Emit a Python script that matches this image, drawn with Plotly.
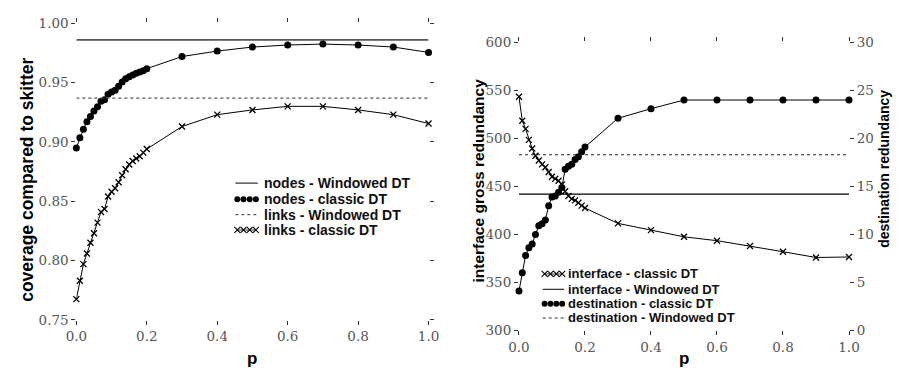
import plotly.graph_objects as go

# ---------------- data ----------------
p = [0.00, 0.01, 0.02, 0.03, 0.04, 0.05, 0.06, 0.07, 0.08, 0.09, 0.10,
     0.11, 0.12, 0.13, 0.14, 0.15, 0.16, 0.17, 0.18, 0.19, 0.20,
     0.3, 0.4, 0.5, 0.6, 0.7, 0.8, 0.9, 1.0]

nodes_classic = [0.895, 0.9035, 0.9107, 0.917, 0.9215, 0.926, 0.9296, 0.9344, 0.9355, 0.9403,
                 0.942, 0.9435, 0.947, 0.9505, 0.9532, 0.955, 0.9565, 0.958, 0.959, 0.960,
                 0.9618, 0.972, 0.9766, 0.980, 0.9817, 0.9825, 0.9817, 0.980, 0.9755]
links_classic = [0.7675, 0.783, 0.797, 0.806, 0.815, 0.823, 0.832, 0.841, 0.8435, 0.854,
                 0.858, 0.861, 0.866, 0.872, 0.877, 0.881, 0.884, 0.886, 0.888, 0.891,
                 0.894, 0.913, 0.923, 0.927, 0.930, 0.930, 0.927, 0.923, 0.9155]
nodes_windowed = 0.986
links_windowed = 0.937

interface_classic = [543.5, 518.5, 510, 498.5, 489.5, 482, 477, 473, 470, 465,
                     460, 458, 456, 452, 445, 440, 437, 435.5, 433, 430,
                     427.5, 411.5, 404.5, 397.5, 393.5, 388, 382, 376, 376.5]
destination_classic = [4.1, 6.0, 7.8, 8.6, 9.0, 10.0, 10.9, 11.1, 11.5, 13.0,
                       13.9, 14.0, 14.4, 14.9, 16.8, 17.1, 17.3, 17.8, 18.1, 18.6,
                       19.1, 22.1, 23.1, 24.0, 24.0, 24.0, 24.0, 24.0, 24.0]
interface_windowed = 442
destination_windowed = 18.3

x_ticks = [0.0, 0.2, 0.4, 0.6, 0.8, 1.0]
left_y_ticks = [0.75, 0.80, 0.85, 0.90, 0.95, 1.00]
right_y_ticks = [300, 350, 400, 450, 500, 550, 600]
right_y2_ticks = [0, 5, 10, 15, 20, 25, 30]

left_legend_labels = ["nodes - Windowed DT", "nodes - classic DT",
                      "links - Windowed DT", "links - classic DT"]
left_legend_kinds = ["solid", "dots", "dash", "cross"]
right_legend_labels = ["interface - classic DT", "interface - Windowed DT",
                       "destination - classic DT", "destination - Windowed DT"]
right_legend_kinds = ["cross", "solid", "dots", "dash"]

# ---------------- styling ----------------
W, H = 900, 370
tickfont = dict(family="DejaVu Serif", size=13.5, color="#555555")
dot = dict(symbol="circle", size=7, color="black")
cross = dict(symbol="x-thin-open", size=6, line=dict(width=1.3, color="black"))

fig = go.Figure()

# left panel
fig.add_trace(go.Scatter(x=[0, 1], y=[nodes_windowed] * 2, mode="lines",
                         line=dict(color="#555555", width=1.6), xaxis="x", yaxis="y"))
fig.add_trace(go.Scatter(x=p, y=nodes_classic, mode="lines+markers",
                         line=dict(color="black", width=1), marker=dot, cliponaxis=False,
                         xaxis="x", yaxis="y"))
fig.add_trace(go.Scatter(x=[0, 1], y=[links_windowed] * 2, mode="lines",
                         line=dict(color="#555555", width=1.3, dash="3px,3px"),
                         xaxis="x", yaxis="y"))
fig.add_trace(go.Scatter(x=p, y=links_classic, mode="lines+markers",
                         line=dict(color="black", width=1), marker=cross, cliponaxis=False,
                         xaxis="x", yaxis="y"))

# right panel
fig.add_trace(go.Scatter(x=p, y=interface_classic, mode="lines+markers",
                         line=dict(color="black", width=1), marker=cross, cliponaxis=False,
                         xaxis="x2", yaxis="y2"))
fig.add_trace(go.Scatter(x=[0, 1], y=[interface_windowed] * 2, mode="lines",
                         line=dict(color="black", width=1.1), xaxis="x2", yaxis="y2"))
fig.add_trace(go.Scatter(x=p, y=destination_classic, mode="lines+markers",
                         line=dict(color="black", width=1), marker=dot, cliponaxis=False,
                         xaxis="x2", yaxis="y3"))
fig.add_trace(go.Scatter(x=[0, 1], y=[destination_windowed] * 2, mode="lines",
                         line=dict(color="#222222", width=1.1, dash="3px,3px"),
                         xaxis="x2", yaxis="y3"))

# ---------------- hand-drawn legends (pixel overlay axis) ----------------
annotations = []


def add_legend(labels, kinds, x0, x1, tx, rows, fsize):
    for lab, kind, yy in zip(labels, kinds, rows):
        if kind == "solid":
            fig.add_trace(go.Scatter(x=[x0, x1], y=[yy, yy], mode="lines",
                                     line=dict(color="black", width=1),
                                     xaxis="x3", yaxis="y4", cliponaxis=False))
        elif kind == "dash":
            fig.add_trace(go.Scatter(x=[x0, x1], y=[yy, yy], mode="lines",
                                     line=dict(color="#333333", width=1, dash="3px,3px"),
                                     xaxis="x3", yaxis="y4", cliponaxis=False))
        else:
            n = 4
            xs = [x0 + 2 + i * (x1 - x0 - 4) / (n - 1) for i in range(n)]
            mk = dict(symbol="circle", size=6, color="black") if kind == "dots" else \
                dict(symbol="x-thin-open", size=6, line=dict(width=1.1, color="black"))
            fig.add_trace(go.Scatter(x=xs, y=[yy] * n,
                                     mode="markers" if kind == "dots" else "lines+markers",
                                     line=dict(color="black", width=0.8), marker=mk,
                                     xaxis="x3", yaxis="y4", cliponaxis=False))
        annotations.append(dict(text="<b>%s</b>" % lab, x=tx, y=yy, xref="x3", yref="y4",
                                xanchor="left", yanchor="middle", showarrow=False,
                                font=dict(family="Liberation Sans", size=fsize,
                                          color="#111111")))


add_legend(left_legend_labels, left_legend_kinds, 230, 253, 257, [183, 200, 216, 232], 14)
add_legend(right_legend_labels, right_legend_kinds, 545, 567, 569, [278, 294, 309, 324], 13)

axis_common = dict(showgrid=False, zeroline=False, showline=False,
                   ticks="outside", ticklen=4, tickwidth=1, tickcolor="#333333",
                   tickfont=tickfont)

title_font = dict(family="Liberation Sans", color="black")
annotations += [
    dict(text="<b>coverage compared to skitter</b>", x=17 / W, y=1 - 180 / H,
         xref="paper", yref="paper", textangle=-90, showarrow=False,
         xanchor="center", yanchor="middle", font=dict(size=17.5, **title_font)),
    dict(text="<b>p</b>", x=247.5 / W, y=1 - 366 / H, xref="paper", yref="paper",
         xanchor="center", yanchor="middle", showarrow=False, font=dict(size=17, **title_font)),
    dict(text="<b>interface gross redundancy</b>", x=479 / W, y=1 - 180 / H,
         xref="paper", yref="paper", textangle=-90, showarrow=False,
         xanchor="center", yanchor="middle", font=dict(size=15.5, **title_font)),
    dict(text="<b>destination redundancy</b>", x=895 / W, y=1 - 168 / H,
         xref="paper", yref="paper", textangle=-90, showarrow=False,
         xanchor="center", yanchor="middle", font=dict(size=14, **title_font)),
    dict(text="<b>p</b>", x=690 / W, y=1 - 366 / H, xref="paper", yref="paper",
         xanchor="center", yanchor="middle", showarrow=False, font=dict(size=17, **title_font)),
]

fig.update_layout(
    width=W, height=H,
    margin=dict(l=0, r=0, t=0, b=0),
    paper_bgcolor="white", plot_bgcolor="rgba(0,0,0,0)",
    showlegend=False,
    xaxis=dict(domain=[67 / W, 428 / W], range=[0, 1], tickvals=x_ticks,
               tickformat=".1f", mirror="ticks", anchor="y", **axis_common),
    yaxis=dict(domain=[1 - 326 / H, 1 - 16 / H], range=[0.75, 1.0], tickvals=left_y_ticks,
               tickformat=".2f", mirror="ticks", anchor="x", **axis_common),
    xaxis2=dict(domain=[520.7 / W, 859 / W], range=[0, 1], tickvals=x_ticks,
                tickformat=".1f", mirror="ticks", anchor="y2", **axis_common),
    yaxis2=dict(domain=[1 - 337 / H, 1 - 36 / H], range=[300, 600], tickvals=right_y_ticks,
                anchor="x2", **axis_common),
    yaxis3=dict(range=[0, 30], tickvals=right_y2_ticks, overlaying="y2", side="right",
                anchor="x2", **axis_common),
    xaxis3=dict(domain=[0, 1], range=[0, W], visible=False, anchor="y4", fixedrange=True),
    yaxis4=dict(domain=[0, 1], range=[H, 0], visible=False, anchor="x3", fixedrange=True),
    annotations=annotations,
)

fig.write_html("out.html")
